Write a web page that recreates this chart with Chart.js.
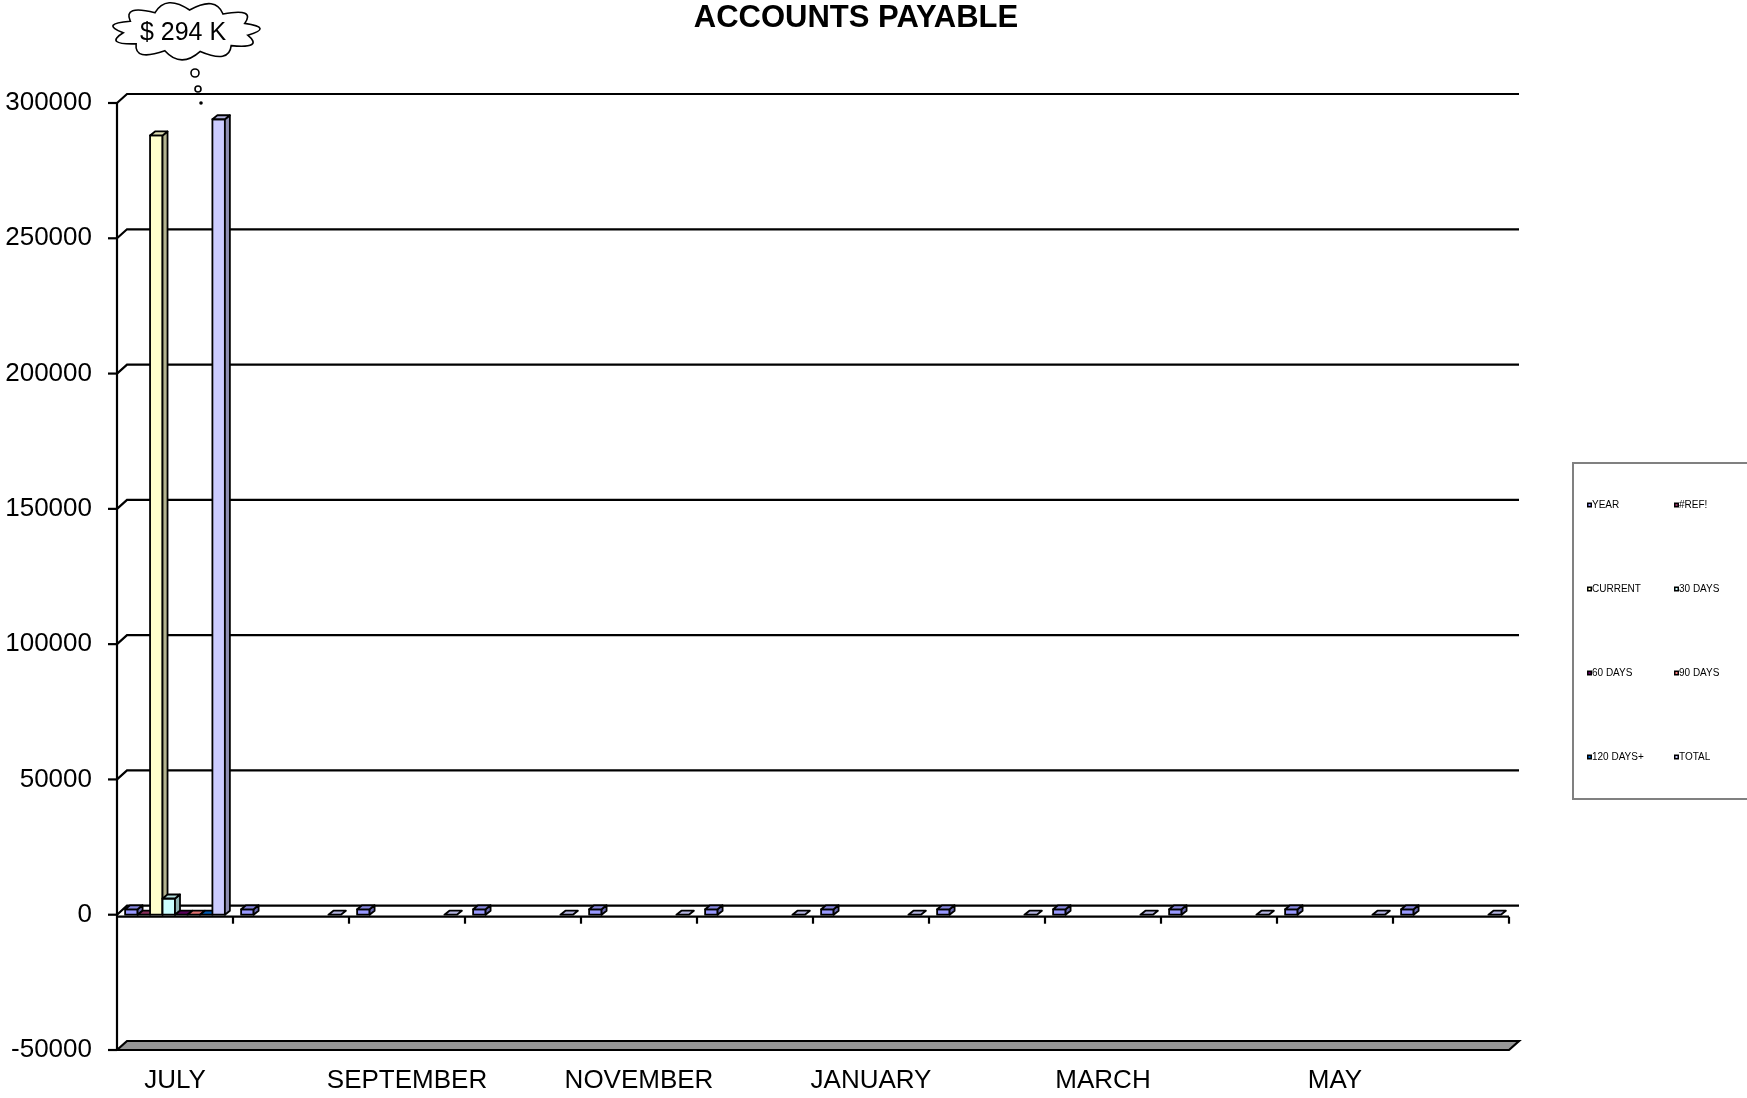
<!DOCTYPE html>
<html>
<head>
<meta charset="utf-8">
<title>Accounts Payable</title>
<script src="https://cdn.jsdelivr.net/npm/chart.js@4.4.1/dist/chart.umd.min.js"></script>
<style>
    body { margin: 0; background: #fff; }
    canvas { display: block; }
</style>
</head>
<body>
<canvas id="apChart" width="1747" height="1098"></canvas>
<script>
// Chart data
const months = ['JULY', 'AUGUST', 'SEPTEMBER', 'OCTOBER', 'NOVEMBER', 'DECEMBER',
    'JANUARY', 'FEBRUARY', 'MARCH', 'APRIL', 'MAY', 'JUNE'];
const seriesNames = ['YEAR', '#REF!', 'CURRENT', '30 DAYS', '60 DAYS', '90 DAYS', '120 DAYS+', 'TOTAL'];
const seriesColors = ['#9999FF', '#993366', '#FFFFCC', '#CCFFFF', '#660066', '#FF8080', '#0066CC', '#CCCCFF'];

const yearValues = [2009, 2009, 2009, 2009, 2009, 2009, 2010, 2010, 2010, 2010, 2010, 2010];
const refValues = [0, null, null, null, null, null, null, null, null, null, null, null];
const currentValues = [288000, null, null, null, null, null, null, null, null, null, null, null];
const days30Values = [6000, null, null, null, null, null, null, null, null, null, null, null];
const days60Values = [0, null, null, null, null, null, null, null, null, null, null, null];
const days90Values = [0, null, null, null, null, null, null, null, null, null, null, null];
const days120Values = [0, null, null, null, null, null, null, null, null, null, null, null];
const totalValues = [294000, 0, 0, 0, 0, 0, 0, 0, 0, 0, 0, 0];

const yTicks = [-50000, 0, 50000, 100000, 150000, 200000, 250000, 300000];
const calloutText = '$ 294 K';

const FONT = "'Liberation Sans', Arial, sans-serif";
const DX = 10, DY = -9;     // depth of the back wall
const BX = 5, BY = -4;      // depth of each bar

function shade(hex, f) {
    const n = parseInt(hex.slice(1), 16);
    const r = Math.round(((n >> 16) & 255) * f);
    const g = Math.round(((n >> 8) & 255) * f);
    const b = Math.round((n & 255) * f);
    return `rgb(${r},${g},${b})`;
}

// Back wall, floor and axes
const wallPlugin = {
    id: 'wall',
    beforeDatasetsDraw(chart) {
        const { ctx, chartArea, scales } = chart;
        const y = scales.y;
        const left = chartArea.left, right = chartArea.right;
        const y0 = y.getPixelForValue(0);
        const yMin = y.getPixelForValue(-50000);
        ctx.save();
        ctx.lineWidth = 2.2;
        ctx.strokeStyle = '#000';

        // floor slab
        ctx.beginPath();
        ctx.moveTo(left, yMin);
        ctx.lineTo(right, yMin);
        ctx.lineTo(right + DX, yMin + DY);
        ctx.lineTo(left + DX, yMin + DY);
        ctx.closePath();
        ctx.fillStyle = '#969696';
        ctx.fill();
        ctx.stroke();

        // gridlines on back wall
        yTicks.forEach(v => {
            if (v === -50000) return;
            const py = y.getPixelForValue(v);
            ctx.beginPath();
            ctx.moveTo(left, py);
            ctx.lineTo(left + DX, py + DY);
            ctx.lineTo(right + DX, py + DY);
            ctx.stroke();
        });

        // y axis line and ticks
        ctx.beginPath();
        ctx.moveTo(left, y.getPixelForValue(300000));
        ctx.lineTo(left, yMin);
        ctx.stroke();
        yTicks.forEach(v => {
            const py = y.getPixelForValue(v);
            ctx.beginPath();
            ctx.moveTo(left - 9, py);
            ctx.lineTo(left, py);
            ctx.stroke();
        });

        // category axis at zero
        ctx.beginPath();
        ctx.moveTo(left, y0 + 2);
        ctx.lineTo(right, y0 + 2);
        ctx.stroke();
        const step = (right - left) / months.length;
        for (let i = 1; i <= months.length; i++) {
            const px = Math.round(left + step * i);
            ctx.beginPath();
            ctx.moveTo(px, y0 + 2);
            ctx.lineTo(px, y0 + 9);
            ctx.stroke();
        }
        ctx.restore();
    }
};

// Draw the bars as boxes, left to right
const boxPlugin = {
    id: 'boxes',
    beforeDatasetsDraw(chart) {
        const ctx = chart.ctx;
        ctx.save();
        ctx.lineWidth = 1.8;
        ctx.strokeStyle = '#000';
        ctx.lineJoin = 'round';
        for (let i = 0; i < months.length; i++) {
            chart.data.datasets.forEach((ds, d) => {
                if (ds.data[i] === null) return;
                const el = chart.getDatasetMeta(d).data[i];
                const { x, y, base, width } = el.getProps(['x', 'y', 'base', 'width'], true);
                const l = x - width / 2, r = x + width / 2;
                const top = Math.min(y, base), bottom = Math.max(y, base);
                const col = ds.backgroundColor;
                if (bottom - top > 0.5) {
                    ctx.fillStyle = col;
                    ctx.fillRect(l, top, width, bottom - top);
                    ctx.strokeRect(l, top, width, bottom - top);
                    ctx.beginPath();
                    ctx.moveTo(r, top);
                    ctx.lineTo(r + BX, top + BY);
                    ctx.lineTo(r + BX, bottom + BY);
                    ctx.lineTo(r, bottom);
                    ctx.closePath();
                    ctx.fillStyle = shade(col, 0.7);
                    ctx.fill();
                    ctx.stroke();
                }
                ctx.beginPath();
                ctx.moveTo(l, top);
                ctx.lineTo(l + BX, top + BY);
                ctx.lineTo(r + BX, top + BY);
                ctx.lineTo(r, top);
                ctx.closePath();
                ctx.fillStyle = shade(col, 0.88);
                ctx.fill();
                ctx.stroke();
            });
        }
        ctx.restore();
        return false; // skip the default flat bars
    }
};

// Title, legend and callout
const extrasPlugin = {
    id: 'extras',
    afterDraw(chart) {
        const ctx = chart.ctx;
        ctx.save();

        // title
        ctx.fillStyle = '#000';
        ctx.font = `bold 31px ${FONT}`;
        ctx.textAlign = 'center';
        ctx.textBaseline = 'middle';
        ctx.fillText('ACCOUNTS PAYABLE', 856, 18);

        // legend box
        ctx.strokeStyle = '#808080';
        ctx.lineWidth = 2;
        ctx.strokeRect(1573, 463, 200, 336);
        ctx.font = `10px ${FONT}`;
        ctx.textAlign = 'left';
        const rowsY = [505, 589, 673, 757];
        const colsX = [1587, 1674];
        chart.data.datasets.forEach((ds, d) => {
            const mx = colsX[d % 2], my = rowsY[Math.floor(d / 2)];
            ctx.fillStyle = '#000';
            ctx.fillRect(mx, my - 2.5, 5, 5);
            ctx.fillStyle = ds.backgroundColor;
            ctx.fillRect(mx + 1.5, my - 1, 2, 2);
            ctx.fillStyle = '#000';
            ctx.fillText(ds.label, mx + 5, my);
        });

        // callout cloud
        const cx = 186, cy = 31, rx = 63, ry = 21, bumps = 11;
        ctx.beginPath();
        for (let k = 0; k <= bumps; k++) {
            const a = (k / bumps) * Math.PI * 2 + 0.2;
            const px = cx + rx * Math.cos(a), py = cy + ry * Math.sin(a);
            if (k === 0) {
                ctx.moveTo(px, py);
            } else {
                const am = ((k - 0.5) / bumps) * Math.PI * 2 + 0.2;
                ctx.quadraticCurveTo(cx + rx * 1.4 * Math.cos(am), cy + ry * 1.8 * Math.sin(am), px, py);
            }
        }
        ctx.closePath();
        ctx.fillStyle = '#fff';
        ctx.fill();
        ctx.strokeStyle = '#000';
        ctx.lineWidth = 1.6;
        ctx.stroke();
        ctx.beginPath();
        ctx.arc(195, 73, 4, 0, Math.PI * 2);
        ctx.stroke();
        ctx.beginPath();
        ctx.arc(198, 89, 3, 0, Math.PI * 2);
        ctx.stroke();
        ctx.beginPath();
        ctx.arc(201, 103, 1.8, 0, Math.PI * 2);
        ctx.fillStyle = '#000';
        ctx.fill();

        ctx.font = `25px ${FONT}`;
        ctx.textAlign = 'center';
        ctx.fillText(calloutText, 183, 33);
        ctx.restore();
    }
};

document.addEventListener('DOMContentLoaded', () => {
    const valueSets = [yearValues, refValues, currentValues, days30Values,
        days60Values, days90Values, days120Values, totalValues];

    const ctx = document.getElementById('apChart').getContext('2d');
    new Chart(ctx, {
        type: 'bar',
        data: {
            labels: months,
            datasets: valueSets.map((vals, d) => ({
                label: seriesNames[d],
                data: vals,
                backgroundColor: seriesColors[d],
                categoryPercentage: 0.86,
                barPercentage: 1.0,
            })),
        },
        options: {
            responsive: false,
            animation: false,
            layout: { padding: { top: 103, right: 238, left: 0, bottom: 0 } },
            plugins: {
                legend: { display: false },
                tooltip: { enabled: false },
            },
            scales: {
                x: {
                    grid: { display: false, drawTicks: false },
                    border: { display: false },
                    ticks: {
                        autoSkip: false,
                        maxRotation: 0,
                        padding: 15,
                        color: '#000',
                        font: { family: FONT, size: 26 },
                        callback: (v, i) => (i % 2 === 0 ? months[i] : ''),
                    },
                    afterFit: scale => { scale.height = 48; },
                },
                y: {
                    min: -50000,
                    max: 300000,
                    grid: { display: false, drawTicks: false },
                    border: { display: false },
                    ticks: {
                        stepSize: 50000,
                        padding: 25,
                        color: '#000',
                        font: { family: FONT, size: 26 },
                        callback: v => String(v),
                    },
                    afterFit: scale => { scale.width = 117; },
                },
            },
        },
        plugins: [wallPlugin, boxPlugin, extrasPlugin],
    });
});
</script>
</body>
</html>
